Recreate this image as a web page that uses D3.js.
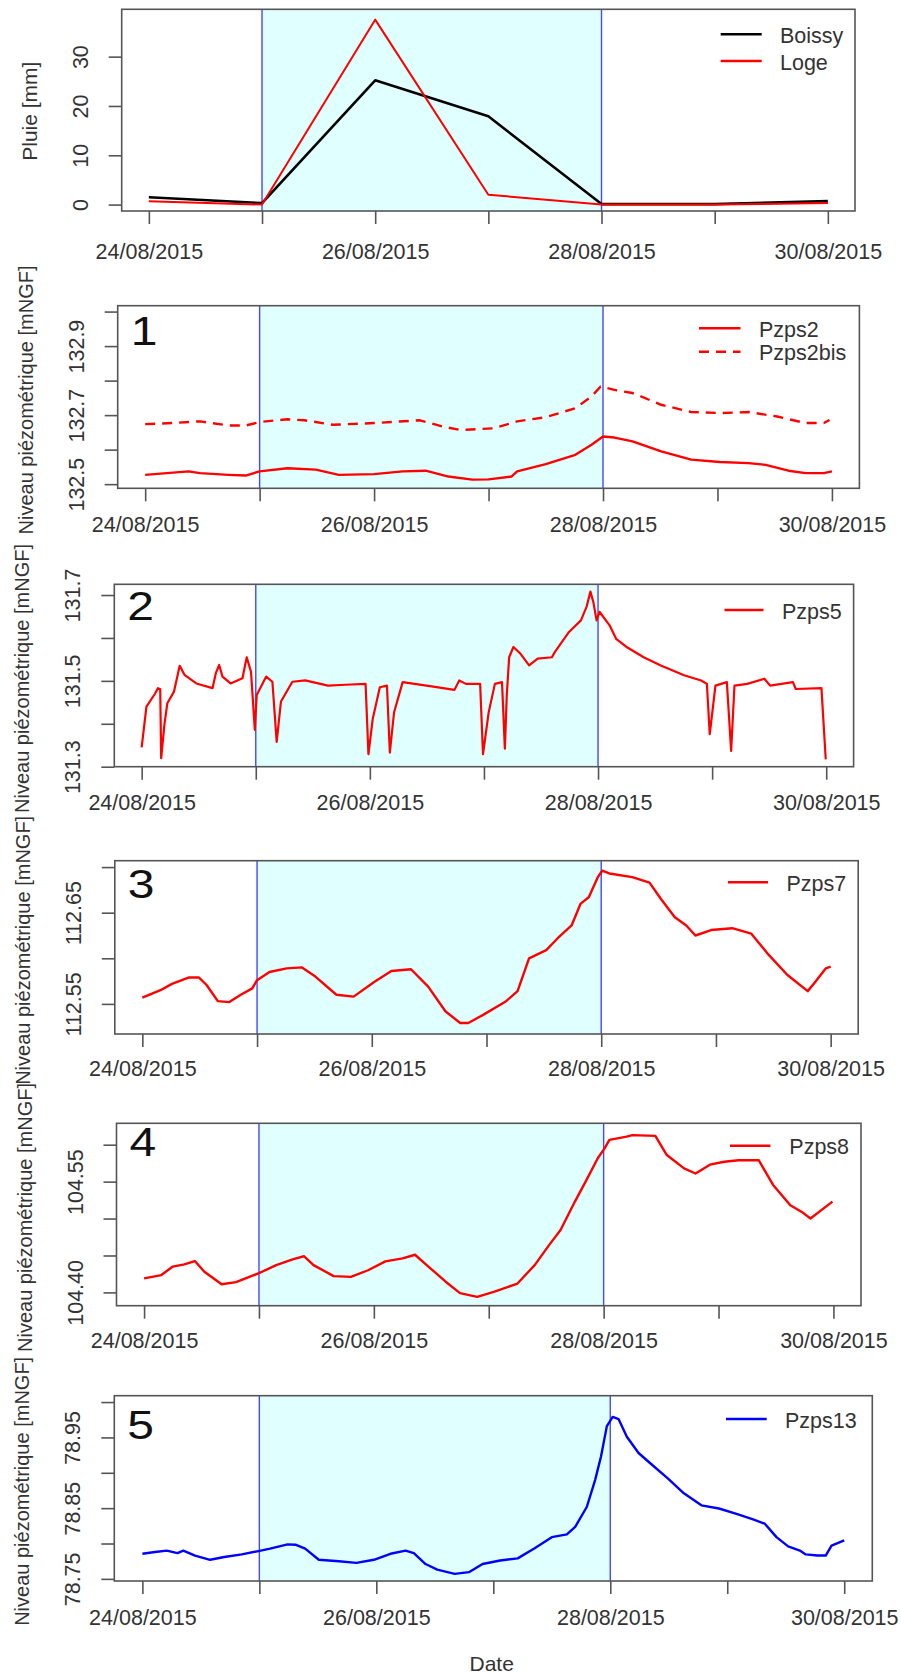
<!DOCTYPE html>
<html><head><meta charset="utf-8">
<script src="https://cdn.jsdelivr.net/npm/d3@7"></script>
<style>body{margin:0;background:#fff} text{font-family:"Liberation Sans",Arial,sans-serif;fill:#333}</style>
</head><body><svg id="c" width="901" height="1674"></svg>
<script>
// ---------------- DATA ----------------
// hours since 24/08/2015 00:00
const rainHours  = [0, 24, 48, 72, 96, 120, 144];
const rainBoissy = [1.5, 0.3, 25.2, 17.9, 0.1, 0.1, 0.7];
const rainLoge   = [0.7, 0.0, 37.5, 2.0, 0.0, 0.0, 0.3];

const tickHours  = [0, 24, 48, 72, 96, 120, 144];
const tickLabels = ["24/08/2015", "", "26/08/2015", "", "28/08/2015", "", "30/08/2015"];
const eventHours = [24, 96];

const pzps2Hours  = [0,9.1,11.5,17.5,21.1,24,29.8,35.8,40.6,48,54,58.8,63.6,68.6,72,76.8,78,84,90.2,93.6,96,98.4,102.2,108.2,114.5,120.5,126.5,130.1,134.9,138.5,142.3,144];
const pzps2Values = [132.527,132.537,132.532,132.527,132.525,132.537,132.546,132.542,132.527,132.529,132.537,132.539,132.522,132.513,132.514,132.522,132.537,132.558,132.585,132.614,132.638,132.635,132.624,132.595,132.571,132.564,132.561,132.556,132.539,132.532,132.532,132.537];

const pzps2bisHours  = [0,5.5,11.5,17.5,21.1,24,29.8,33.4,39.4,48,57.6,62.4,66,73.2,78,84,90.2,93.6,95.5,98.4,102.2,108.2,114.5,120.5,126.5,132.5,138.5,142.3,143.5];
const pzps2bisValues = [132.674,132.677,132.682,132.670,132.670,132.680,132.688,132.685,132.672,132.677,132.685,132.667,132.657,132.662,132.682,132.694,132.720,132.754,132.783,132.773,132.764,132.730,132.709,132.706,132.709,132.696,132.677,132.677,132.686];

const pzps5Hours  = [0,1.0,2.8,3.4,3.9,4.1,4.8,5.4,6.8,8.0,9.0,11.5,14.9,15.6,16.3,17.0,18.7,21.2,22.1,23.0,23.8,24.2,26.2,27.5,28.4,29.3,31.7,34.4,39.2,42.9,47.1,47.7,48.6,50.1,51.6,52.2,53.1,54.9,61.0,65.8,66.8,68.2,71.2,71.8,73.0,74.3,75.8,76.4,76.8,77.3,78.2,79.7,81.5,83.3,86.3,86.9,89.9,92.4,93.6,94.4,95.0,95.7,96.3,98.4,99.8,102.0,105.6,109.2,114.1,117.7,118.9,119.5,120.7,123.1,124.0,124.7,127.4,131.0,132.2,137.0,137.6,143.0,143.9];
const pzps5Values = [131.345,131.440,131.470,131.483,131.481,131.320,131.400,131.448,131.475,131.535,131.514,131.494,131.483,131.518,131.537,131.510,131.494,131.506,131.555,131.521,131.386,131.467,131.510,131.498,131.358,131.452,131.498,131.501,131.489,131.491,131.493,131.329,131.411,131.485,131.489,131.333,131.427,131.497,131.487,131.479,131.501,131.493,131.493,131.329,131.427,131.493,131.497,131.342,131.466,131.555,131.579,131.563,131.536,131.552,131.555,131.567,131.614,131.641,131.673,131.708,131.684,131.641,131.661,131.630,131.598,131.579,131.555,131.536,131.513,131.501,131.493,131.376,131.489,131.497,131.337,131.489,131.493,131.505,131.489,131.497,131.481,131.483,131.317];

const pzps7Hours  = [0,3.8,6.2,9.8,11.8,13.4,15.8,18.2,20.6,23.0,24.0,26.6,30.2,33.4,36.2,40.6,44.2,48.5,52.1,56.2,59.8,63.4,66.5,68.2,71.3,76.1,78.5,80.9,84.5,86.9,89.8,91.7,93.4,95.3,96.2,97.7,102.5,106.1,108.5,111.4,113.8,115.7,119.0,123.4,127.4,131.0,134.9,139.2,140.6,143.0,144];
const pzps7Values = [112.557,112.565,112.572,112.579,112.579,112.571,112.553,112.552,112.560,112.567,112.576,112.585,112.589,112.590,112.580,112.560,112.558,112.574,112.586,112.588,112.569,112.542,112.529,112.529,112.538,112.553,112.564,112.600,112.609,112.622,112.636,112.660,112.667,112.689,112.696,112.693,112.689,112.683,112.665,112.645,112.636,112.625,112.631,112.633,112.627,112.604,112.582,112.564,112.573,112.589,112.591];

const pzps8Hours  = [0,3.6,6.0,8.4,10.6,12.6,16.2,19.2,22.8,24.0,27.6,31.2,33.4,35.4,39.6,43.2,46.8,50.4,54.0,56.6,59.4,63.0,66.0,69.6,73.2,78.0,81.6,84.6,87.0,90.0,92.4,94.8,96.2,97.2,100.8,102.0,106.8,109.2,112.8,115.2,118.2,121.2,124.2,128.4,131.4,135.0,137.4,139.2,141.0,143.8];
const pzps8Values = [104.419,104.4235,104.435,104.438,104.4425,104.428,104.411,104.414,104.423,104.426,104.437,104.445,104.449,104.437,104.422,104.421,104.430,104.442,104.446,104.451,104.435,104.4145,104.399,104.394,104.401,104.412,104.437,104.464,104.4845,104.523,104.552,104.582,104.595,104.6065,104.611,104.613,104.612,104.586,104.568,104.561,104.573,104.577,104.579,104.579,104.5455,104.518,104.509,104.500,104.509,104.523];

const pzps13Hours  = [0,2.6,5.0,7.2,8.4,10.8,13.9,16.8,20.4,23.8,26.2,29.8,31.4,33.4,36.2,40.3,43.9,47.5,50.9,54.0,55.7,58.1,60.5,64.1,67.0,69.8,73.4,77.0,80.4,84.0,87.1,88.8,91.2,92.9,94.1,95.3,96.5,97.7,99.4,101.8,104.2,107.8,111.1,114.7,118.3,121.9,125.3,127.7,130.1,132.5,134.9,136.1,138.5,140.2,141.4,144.0];
const pzps13Values = [78.7855,78.788,78.790,78.7865,78.790,78.783,78.777,78.781,78.7846,78.7893,78.7927,78.7988,78.7983,78.7927,78.777,78.775,78.7727,78.777,78.7855,78.790,78.7865,78.771,78.763,78.757,78.7595,78.771,78.776,78.779,78.793,78.809,78.813,78.8235,78.852,78.890,78.923,78.966,78.979,78.976,78.951,78.928,78.9135,78.892,78.871,78.854,78.8495,78.842,78.834,78.828,78.809,78.796,78.790,78.7846,78.783,78.783,78.797,78.8045];

const ticks1 = [0,10,20,30],            labels1 = ["0","10","20","30"];
const ticks2 = [132.5,132.6,132.7,132.8,132.9,133.0], labels2 = ["132.5","","132.7","","132.9",""];
const ticks3 = [131.3,131.4,131.5,131.6,131.7], labels3 = ["131.3","","131.5","","131.7"];
const ticks4 = [112.55,112.60,112.65,112.70], labels4 = ["112.55","","112.65",""];
const ticks5 = [104.40,104.45,104.50,104.55,104.60], labels5 = ["104.40","","","104.55",""];
const ticks6 = [78.75,78.80,78.85,78.90,78.95,79.00], labels6 = ["78.75","","78.85","","78.95",""];

// ---------------- DRAWING ----------------
const T0 = Date.UTC(2015, 7, 24);
const toDate = h => new Date(T0 + h * 3600000);
const xDomain = [toDate(-0.04 * 144), toDate(144 * 1.04)];
const svg = d3.select("#c");
const FS = 21.5;
const yTitle = "Niveau piézométrique [mNGF]";

const panels = [
  {L:121.7,R:855,T:9.3,B:211, yd:[-1.3,39.6], ticks:ticks1, labels:labels1, title:"Pluie [mm]", xlabY:48,
   series:[{h:rainHours,v:rainBoissy,c:"#000",w:2.6},{h:rainHours,v:rainLoge,c:"#ff0000",w:2}],
   legend:{x1:720.7,x2:761.7,tx:780,rows:[{y:34.3,t:"Boissy",c:"#000"},{y:61,t:"Loge",c:"#ff0000"}]}},
  {L:117.7,R:859.4,T:305.7,B:488.3, yd:[132.488,133.017], ticks:ticks2, labels:labels2, title:yTitle, num:"1", numY:345, xlabY:44,
   series:[{h:pzps2Hours,v:pzps2Values,c:"#ff0000",w:2.4},{h:pzps2bisHours,v:pzps2bisValues,c:"#ff0000",w:2.4,dash:"10,7"}],
   legend:{x1:699,x2:740.5,tx:759,rows:[{y:328.3,t:"Pzps2",c:"#ff0000"},{y:351.7,t:"Pzps2bis",c:"#ff0000",dash:"10,7"}]}},
  {L:114.3,R:853.6,T:584.3,B:766.7, yd:[131.3,131.725], ticks:ticks3, labels:labels3, title:yTitle, num:"2", numY:620, xlabY:43,
   series:[{h:pzps5Hours,v:pzps5Values,c:"#ff0000",w:2.2}],
   legend:{x1:724.5,x2:763.5,tx:782,rows:[{y:610,t:"Pzps5",c:"#ff0000"}]}},
  {L:114.8,R:858.2,T:860.7,B:1034, yd:[112.517,112.707], ticks:ticks4, labels:labels4, title:yTitle, num:"3", numY:898, xlabY:42,
   series:[{h:pzps7Hours,v:pzps7Values,c:"#ff0000",w:2.4}],
   legend:{x1:728,x2:768,tx:786.5,rows:[{y:882.3,t:"Pzps7",c:"#ff0000"}]}},
  {L:116.5,R:861,T:1123.3,B:1305.7, yd:[104.382,104.629], ticks:ticks5, labels:labels5, title:yTitle, num:"4", numY:1155.7, xlabY:42,
   series:[{h:pzps8Hours,v:pzps8Values,c:"#ff0000",w:2.4}],
   legend:{x1:730,x2:770.4,tx:789.3,rows:[{y:1145.7,t:"Pzps8",c:"#ff0000"}]}},
  {L:114.3,R:872.3,T:1395.7,B:1581, yd:[78.747,79.009], ticks:ticks6, labels:labels6, title:yTitle, num:"5", numY:1439.3, xlabY:44,
   series:[{h:pzps13Hours,v:pzps13Values,c:"#0000ff",w:2.4}],
   legend:{x1:726,x2:766.7,tx:785,rows:[{y:1419,t:"Pzps13",c:"#0000ff"}]}}
];

panels.forEach((p, i) => {
  const g = svg.append("g");
  const x = d3.scaleUtc().domain(xDomain).range([p.L, p.R]);
  const y = d3.scaleLinear().domain(p.yd).range([p.B, p.T]);
  const clipId = "clip" + i;
  g.append("clipPath").attr("id", clipId).append("rect")
    .attr("x", p.L).attr("y", p.T).attr("width", p.R - p.L).attr("height", p.B - p.T);

  // event shading
  g.append("rect")
    .attr("x", x(toDate(eventHours[0]))).attr("y", p.T)
    .attr("width", x(toDate(eventHours[1])) - x(toDate(eventHours[0])))
    .attr("height", p.B - p.T).attr("fill", "#e0ffff");
  g.selectAll(".ev").data(eventHours).join("line")
    .attr("x1", d => x(toDate(d))).attr("x2", d => x(toDate(d)))
    .attr("y1", p.T).attr("y2", p.B)
    .attr("stroke", "#4646ff").attr("stroke-width", 1.4);

  // series
  const line = d3.line().x(d => x(toDate(d[0]))).y(d => y(d[1]));
  p.series.forEach(s => {
    g.append("path")
      .datum(s.h.map((h, k) => [h, s.v[k]]))
      .attr("d", line).attr("fill", "none")
      .attr("stroke", s.c).attr("stroke-width", s.w)
      .attr("stroke-linejoin", "round")
      .attr("stroke-dasharray", s.dash || null)
      .attr("clip-path", `url(#${clipId})`);
  });

  // box
  g.append("rect").attr("x", p.L).attr("y", p.T)
    .attr("width", p.R - p.L).attr("height", p.B - p.T)
    .attr("fill", "none").attr("stroke", "#555").attr("stroke-width", 1.6);

  // x axis
  const xa = g.append("g").attr("transform", `translate(0,${p.B})`)
    .call(d3.axisBottom(x).tickValues(tickHours.map(toDate)).tickSize(13)
      .tickFormat((d, k) => tickLabels[k]));
  xa.select(".domain").remove();
  xa.selectAll(".tick line").attr("stroke", "#555").attr("stroke-width", 1.6);
  xa.selectAll(".tick text").attr("y", p.xlabY).attr("dy", null)
    .attr("font-size", FS).style("font-family", "Liberation Sans, Arial, sans-serif").attr("fill", "#333");

  // y axis
  const ya = g.append("g").attr("transform", `translate(${p.L},0)`)
    .call(d3.axisLeft(y).tickValues(p.ticks).tickSize(13)
      .tickFormat((d, k) => p.labels[k]));
  ya.select(".domain").remove();
  ya.selectAll(".tick line").attr("stroke", "#555").attr("stroke-width", 1.6);
  ya.selectAll(".tick text").attr("x", null).attr("dy", null)
    .attr("text-anchor", "middle").attr("transform", "translate(-34,0) rotate(-90)")
    .attr("font-size", FS).style("font-family", "Liberation Sans, Arial, sans-serif").attr("fill", "#333");

  // y title
  const cy = (p.T + p.B) / 2 + (i === 0 ? 1 : 3);
  g.append("text").attr("transform", `translate(${p.L - 85},${cy}) rotate(-90)`)
    .attr("text-anchor", "middle").attr("font-size", i === 0 ? 21 : 20).text(p.title);

  // panel number
  if (p.num) {
    g.append("text").attr("transform", `translate(${p.L + 13},${p.numY}) scale(1.2,1)`)
      .attr("font-size", 40).attr("fill", "#111").style("fill", "#111").text(p.num);
  }

  // legend
  p.legend.rows.forEach(r => {
    g.append("line").attr("x1", p.legend.x1).attr("x2", p.legend.x2)
      .attr("y1", r.y).attr("y2", r.y).attr("stroke", r.c).attr("stroke-width", 2.6)
      .attr("stroke-dasharray", r.dash || null);
    g.append("text").attr("x", p.legend.tx).attr("y", r.y + 8.5)
      .attr("font-size", FS).text(r.t);
  });
});

// x title
svg.append("text").attr("x", 491.7).attr("y", 1671).attr("text-anchor", "middle")
  .attr("font-size", 21).text("Date");
</script>
</body></html>
